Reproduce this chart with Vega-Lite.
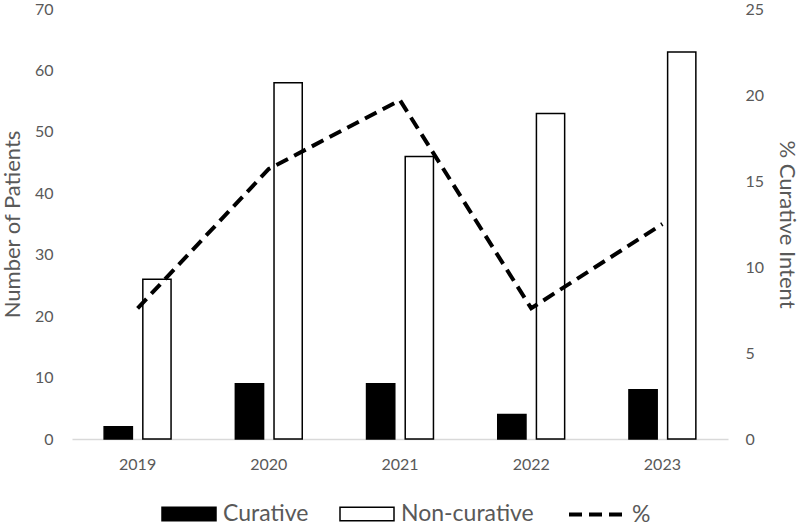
{
  "$schema": "https://vega.github.io/schema/vega-lite/v6.json",
  "width": 656,
  "height": 430,
  "autosize": {"type": "none"},
  "padding": {"left": 72, "top": 9, "right": 72, "bottom": 84},
  "background": "white",
  "config": {
    "font": "Lato",
    "view": {"stroke": null},
    "axis": {
      "labelColor": "#595959",
      "labelFontSize": 16,
      "titleColor": "#595959",
      "titleFontSize": 22,
      "titleFontWeight": "normal",
      "ticks": false,
      "domain": false,
      "grid": false
    },
    "legend": {
      "labelColor": "#595959",
      "labelFontSize": 23,
      "labelFont": "Lato"
    }
  },
  "datasets": {
    "bars": [
      {"year": "2019", "series": "Curative", "count": 2},
      {"year": "2019", "series": "Non-curative", "count": 26},
      {"year": "2020", "series": "Curative", "count": 9},
      {"year": "2020", "series": "Non-curative", "count": 58},
      {"year": "2021", "series": "Curative", "count": 9},
      {"year": "2021", "series": "Non-curative", "count": 46},
      {"year": "2022", "series": "Curative", "count": 4},
      {"year": "2022", "series": "Non-curative", "count": 53},
      {"year": "2023", "series": "Curative", "count": 8},
      {"year": "2023", "series": "Non-curative", "count": 63}
    ],
    "pct": [
      {"year": "2019", "pct": 7.6},
      {"year": "2020", "pct": 15.7},
      {"year": "2021", "pct": 19.7},
      {"year": "2022", "pct": 7.6},
      {"year": "2023", "pct": 12.5}
    ]
  },
  "layer": [
    {
      "data": {"name": "bars"},
      "mark": {"type": "bar", "stroke": "black", "strokeWidth": 1.5},
      "encoding": {
        "x": {
          "field": "year",
          "type": "nominal",
          "scale": {"paddingInner": 0.49, "paddingOuter": 0.245},
          "axis": {
            "title": null,
            "labelAngle": 0,
            "domain": true,
            "domainColor": "#d9d9d9",
            "domainWidth": 1.5,
            "labelPadding": 17
          }
        },
        "xOffset": {
          "field": "series",
          "type": "nominal",
          "sort": ["Curative", "Non-curative"],
          "scale": {"paddingInner": 0.27, "paddingOuter": 0}
        },
        "y": {
          "field": "count",
          "type": "quantitative",
          "scale": {"domain": [0, 70], "nice": false},
          "axis": {
            "title": "Number of Patients",
            "values": [0, 10, 20, 30, 40, 50, 60, 70],
            "labelPadding": 19,
            "titlePadding": 10
          }
        },
        "fill": {
          "field": "series",
          "type": "nominal",
          "scale": {"domain": ["Curative", "Non-curative"], "range": ["#000000", "#ffffff"]},
          "legend": {
            "title": null,
            "orient": "none",
            "direction": "horizontal",
            "legendX": 89,
            "legendY": 477,
            "symbolType": "M-1,-0.25H1V0.25H-1Z",
            "symbolSize": 2916,
            "symbolStrokeColor": "black",
            "symbolStrokeWidth": 1.5,
            "symbolOpacity": 1,
            "labelOffset": 6,
            "columnPadding": 28
          }
        }
      }
    },
    {
      "data": {"name": "pct"},
      "mark": {"type": "line", "stroke": "black", "strokeWidth": 4},
      "encoding": {
        "x": {"field": "year", "type": "nominal"},
        "y": {
          "field": "pct",
          "type": "quantitative",
          "scale": {"domain": [0, 25], "nice": false},
          "axis": {
            "orient": "right",
            "title": "% Curative Intent",
            "values": [0, 5, 10, 15, 20, 25],
            "labelPadding": 17,
            "titlePadding": 11
          }
        },
        "strokeDash": {
          "datum": "%",
          "scale": {"range": [[13, 7]]},
          "legend": {
            "title": null,
            "orient": "none",
            "legendX": 495,
            "legendY": 477,
            "symbolType": "stroke",
            "symbolSize": 2809,
            "symbolStrokeColor": "black",
            "symbolStrokeWidth": 4,
            "labelOffset": 8
          }
        }
      }
    }
  ],
  "resolve": {"scale": {"y": "independent"}}
}
